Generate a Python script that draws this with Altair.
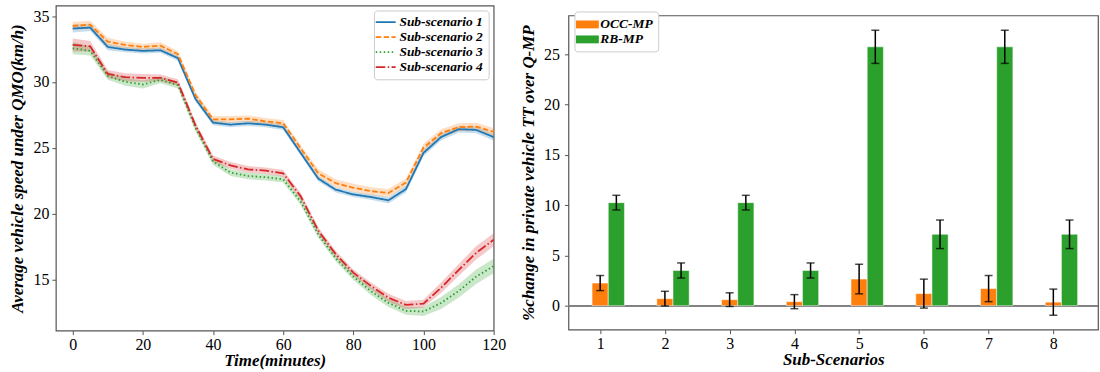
import altair as alt
import pandas as pd

# ---------------- data: left panel ----------------
times = [0, 5, 10, 15, 20, 25, 30, 35, 40, 45, 50, 55, 60, 65, 70, 75, 80, 85, 90, 95, 100, 105, 110, 115, 120]
series_names = ["Sub-scenario 1", "Sub-scenario 2", "Sub-scenario 3", "Sub-scenario 4"]

speed_s1 = [34.05, 34.12, 32.65, 32.45, 32.35, 32.4, 31.8, 28.7, 26.9, 26.75, 26.85, 26.75, 26.55,
            24.6, 22.65, 21.8, 21.45, 21.25, 21.0, 21.85, 24.6, 25.8, 26.4, 26.35, 25.8]
speed_s2 = [34.25, 34.35, 33.05, 32.8, 32.65, 32.75, 32.1, 29.0, 27.15, 27.15, 27.2, 27.0, 26.85,
            24.95, 23.05, 22.3, 21.95, 21.7, 21.55, 22.35, 25.0, 26.1, 26.55, 26.6, 26.2]
speed_s3 = [32.55, 32.35, 30.45, 30.0, 29.8, 30.15, 29.75, 26.5, 23.95, 23.1, 22.85, 22.75, 22.6,
            20.9, 18.4, 16.6, 15.2, 14.1, 13.2, 12.6, 12.55, 13.2, 14.1, 15.2, 16.0]
speed_s4 = [32.8, 32.7, 30.6, 30.35, 30.3, 30.3, 29.95, 26.7, 24.15, 23.65, 23.35, 23.25, 23.05,
            21.3, 18.7, 16.9, 15.5, 14.5, 13.6, 13.05, 13.15, 14.35, 15.7, 17.0, 18.0]

# half-widths of the shaded confidence bands
band_s1 = [0.3, 0.25, 0.25, 0.2, 0.2, 0.2, 0.2, 0.2, 0.2, 0.2, 0.2, 0.2, 0.2,
           0.2, 0.2, 0.2, 0.2, 0.2, 0.25, 0.25, 0.25, 0.25, 0.25, 0.25, 0.25]
band_s2 = [0.3, 0.3, 0.3, 0.25, 0.25, 0.25, 0.25, 0.25, 0.25, 0.25, 0.25, 0.25, 0.25,
           0.25, 0.3, 0.3, 0.3, 0.3, 0.3, 0.3, 0.3, 0.3, 0.3, 0.3, 0.3]
band_s3 = [0.45, 0.35, 0.3, 0.3, 0.3, 0.25, 0.25, 0.25, 0.25, 0.25, 0.25, 0.25, 0.25,
           0.25, 0.25, 0.25, 0.25, 0.3, 0.3, 0.3, 0.35, 0.45, 0.5, 0.55, 0.55]
band_s4 = [0.5, 0.4, 0.3, 0.3, 0.3, 0.25, 0.25, 0.25, 0.25, 0.25, 0.25, 0.25, 0.25,
           0.25, 0.25, 0.25, 0.25, 0.25, 0.3, 0.3, 0.3, 0.4, 0.45, 0.5, 0.5]

# ---------------- data: right panel ----------------
scenarios = [1, 2, 3, 4, 5, 6, 7, 8]
methods = ["OCC-MP", "RB-MP"]
occ_mean = [2.25, 0.7, 0.6, 0.4, 2.65, 1.2, 1.7, 0.35]
occ_err = [0.75, 0.73, 0.68, 0.7, 1.47, 1.44, 1.3, 1.3]
rb_mean = [10.25, 3.5, 10.25, 3.5, 25.75, 7.1, 25.75, 7.1]
rb_err = [0.73, 0.75, 0.73, 0.75, 1.65, 1.42, 1.65, 1.42]

# ---------------- build tables ----------------
rows = []
for name, vals, hws in zip(series_names, [speed_s1, speed_s2, speed_s3, speed_s4],
                           [band_s1, band_s2, band_s3, band_s4]):
    for t, v, h in zip(times, vals, hws):
        rows.append({"t": t, "series": name, "speed": v, "lo": v - h, "hi": v + h})
df_line = pd.DataFrame(rows)

BAR_W = 0.25
brows = []
for m, means, errs, off in [("OCC-MP", occ_mean, occ_err, 0.0), ("RB-MP", rb_mean, rb_err, BAR_W)]:
    for s, v, e in zip(scenarios, means, errs):
        c = s + off
        brows.append({"method": m, "xc": c, "x0": c - BAR_W / 2, "x1": c + BAR_W / 2,
                      "val": v, "lo": v - e, "hi": v + e, "base": 0.0})
df_bar = pd.DataFrame(brows)

FONT = "Liberation Serif"
colors4 = ["#1f77b4", "#ff7f0e", "#2ca02c", "#d62728"]
dashes = [[1, 0], [5.5, 2.4], [1.5, 2.5], [9.6, 2.4, 1.5, 2.4]]


def axis(**kw):
    base = dict(labelFont=FONT, labelFontSize=16, labelColor="black", labelFlush=False,
                labelOverlap=False,
                titleFont=FONT, titleFontSize=17, titleFontStyle="italic",
                titleFontWeight="bold", titleColor="black", domain=False, grid=False,
                tickColor="#555555", tickSize=4)
    base.update(kw)
    return alt.Axis(**base)


def legend(**kw):
    return alt.Legend(title=None, labelFont=FONT, labelFontStyle="italic",
                      labelFontWeight="bold", labelColor="black", padding=5,
                      strokeColor="#cccccc", fillColor="white", cornerRadius=3, **kw)


# ---------------- left panel ----------------
xL_scale = alt.Scale(domain=[-4.8, 120], nice=False, zero=False)
yL_scale = alt.Scale(domain=[11.1, 35.8], nice=False, zero=False)
xL_axis = axis(values=[0, 20, 40, 60, 80, 100, 120], title="Time(minutes)", titlePadding=0, labelPadding=2)
yL_axis = axis(values=[15, 20, 25, 30, 35], title="Average vehicle speed under QMO(km/h)",
               titlePadding=6, labelPadding=3)
color_scale = alt.Scale(domain=series_names, range=colors4)
left_legend = legend(orient="top-right", offset=5, symbolType="M-2,0H2", symbolSize=100,
                     symbolStrokeWidth=1.8, symbolOpacity=1, rowPadding=0,
                     labelFontSize=13.5, labelOffset=7)

band = alt.Chart(df_line).mark_area(opacity=0.25).encode(
    x=alt.X("t:Q", scale=xL_scale, axis=xL_axis),
    y=alt.Y("lo:Q", scale=yL_scale, axis=yL_axis),
    y2="hi:Q",
    color=alt.Color("series:N", scale=color_scale, legend=left_legend),
)

line = alt.Chart(df_line).mark_line(strokeWidth=1.8).encode(
    x=alt.X("t:Q", scale=xL_scale, axis=xL_axis),
    y=alt.Y("speed:Q", scale=yL_scale, axis=yL_axis),
    color=alt.Color("series:N", scale=color_scale, legend=left_legend),
    strokeDash=alt.StrokeDash("series:N", scale=alt.Scale(domain=series_names, range=dashes),
                              legend=left_legend),
)

left = alt.layer(band, line).properties(width=439, height=326)

# ---------------- right panel ----------------
xR_scale = alt.Scale(domain=[0.51, 8.69], nice=False, zero=False)
yR_scale = alt.Scale(domain=[-2.38, 28.87], nice=False, zero=False)
xR_axis = axis(values=scenarios, title="Sub-Scenarios", titlePadding=0, format="d", labelPadding=2)
yR_axis = axis(values=[0, 5, 10, 15, 20, 25], title="%change in private vehicle TT over Q-MP",
               titlePadding=6, labelPadding=5)
method_scale = alt.Scale(domain=methods, range=["#ff7f0e", "#2ca02c"])

zero_line = alt.Chart(df_bar).mark_rule(color="#808080", strokeWidth=1).encode(
    y=alt.Y("base:Q", scale=yR_scale, axis=yR_axis)
)

bars = alt.Chart(df_bar).mark_bar(stroke="white", strokeOpacity=0.5, strokeWidth=1).encode(
    x=alt.X("x0:Q", scale=xR_scale, axis=xR_axis),
    x2="x1:Q",
    y=alt.Y("val:Q", scale=yR_scale, axis=yR_axis),
    y2="base:Q",
    color=alt.Color("method:N", scale=method_scale,
                    legend=legend(orient="top-left", offset=6,
                                  symbolType="M-1.45,-0.5H1.45V0.5H-1.45Z", symbolSize=250,
                                  symbolStrokeWidth=0, rowPadding=0, labelFontSize=13.5,
                                  labelOffset=5)),
)

err_rule = alt.Chart(df_bar).mark_rule(color="black", strokeWidth=1.5).encode(
    x=alt.X("xc:Q", scale=xR_scale, axis=xR_axis),
    y=alt.Y("lo:Q", scale=yR_scale, axis=yR_axis),
    y2="hi:Q",
)
cap_lo = alt.Chart(df_bar).mark_tick(color="black", orient="horizontal", size=8, thickness=1.5).encode(
    x=alt.X("xc:Q", scale=xR_scale, axis=xR_axis),
    y=alt.Y("lo:Q", scale=yR_scale, axis=yR_axis),
)
cap_hi = alt.Chart(df_bar).mark_tick(color="black", orient="horizontal", size=8, thickness=1.5).encode(
    x=alt.X("xc:Q", scale=xR_scale, axis=xR_axis),
    y=alt.Y("hi:Q", scale=yR_scale, axis=yR_axis),
)

right = alt.layer(zero_line, bars, err_rule, cap_lo, cap_hi).properties(width=531, height=315)

spacer = alt.Chart(pd.DataFrame({"a": [0]})).mark_point(opacity=0, size=0, strokeWidth=0).encode(
    x=alt.value(0), y=alt.value(0)
).properties(width=531, height=1, view=alt.ViewBackground(stroke=None))

right_col = alt.vconcat(spacer, right, spacing=9, bounds="flush").resolve_scale(
    x="independent", y="independent")

chart = alt.hconcat(left, right_col, spacing=75, bounds="flush").resolve_scale(
    color="independent", strokeDash="independent", x="independent", y="independent"
).resolve_legend(color="independent", strokeDash="independent").properties(
    padding={"left": 8, "top": 4, "right": 0, "bottom": 0},
    background="white",
).configure(font=FONT).configure_view(stroke="#555555", strokeWidth=1.2)

chart.save("out.html", embed_options={"renderer": "svg", "actions": False})
